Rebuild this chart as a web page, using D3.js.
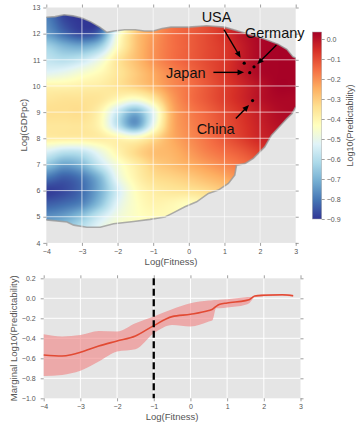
<!DOCTYPE html>
<html><head><meta charset="utf-8">
<script src="https://cdn.jsdelivr.net/npm/d3@7"></script>
<style>
body{margin:0;background:#fff}
svg{display:block}
text{font-family:"Liberation Sans",Arial,sans-serif}
</style>
</head><body>
<svg id="chart" width="363" height="430"></svg>
<script>
// ---------- DATA ----------
const gridX = [-4,-3.5,-3,-2.5,-2,-1.5,-1,-0.5,0,0.5,1,1.5,2,2.5,3];
const gridY = [13,12.5,12,11.5,11,10.5,10,9.5,9,8.5,8,7.5,7,6.5,6,5.5,5,4.5,4];
const predictability = [
 [-0.80,-0.89,-0.90,-0.90,-0.70,-0.40,-0.25,-0.18,-0.15,-0.12,-0.08,-0.04,-0.01, 0.00, 0.00],
 [-0.78,-0.87,-0.90,-0.89,-0.64,-0.36,-0.24,-0.17,-0.14,-0.11,-0.07,-0.03, 0.00, 0.01, 0.01],
 [-0.74,-0.82,-0.87,-0.81,-0.48,-0.30,-0.22,-0.16,-0.13,-0.10,-0.06,-0.01, 0.02, 0.03, 0.03],
 [-0.63,-0.69,-0.71,-0.64,-0.43,-0.29,-0.21,-0.16,-0.13,-0.10,-0.07,-0.02, 0.02, 0.03, 0.03],
 [-0.58,-0.60,-0.57,-0.49,-0.36,-0.28,-0.21,-0.16,-0.13,-0.10,-0.07,-0.02, 0.02, 0.03, 0.03],
 [-0.52,-0.50,-0.46,-0.42,-0.36,-0.30,-0.24,-0.19,-0.15,-0.11,-0.07,-0.02, 0.02, 0.03, 0.03],
 [-0.40,-0.40,-0.39,-0.38,-0.35,-0.31,-0.26,-0.20,-0.16,-0.12,-0.08,-0.04, 0.00, 0.03, 0.03],
 [-0.36,-0.35,-0.35,-0.36,-0.41,-0.45,-0.37,-0.23,-0.16,-0.12,-0.08,-0.04, 0.00, 0.02, 0.02],
 [-0.34,-0.34,-0.34,-0.40,-0.57,-0.70,-0.52,-0.26,-0.18,-0.14,-0.10,-0.06,-0.02, 0.01, 0.02],
 [-0.36,-0.36,-0.36,-0.41,-0.59,-0.74,-0.50,-0.26,-0.19,-0.15,-0.11,-0.07,-0.03, 0.00, 0.01],
 [-0.38,-0.38,-0.38,-0.38,-0.40,-0.42,-0.34,-0.25,-0.20,-0.16,-0.12,-0.08,-0.04,-0.02,-0.01],
 [-0.53,-0.58,-0.57,-0.49,-0.40,-0.33,-0.28,-0.26,-0.22,-0.18,-0.15,-0.12,-0.08,-0.05,-0.04],
 [-0.66,-0.73,-0.69,-0.57,-0.46,-0.38,-0.31,-0.28,-0.25,-0.22,-0.19,-0.16,-0.13,-0.10,-0.08],
 [-0.80,-0.84,-0.80,-0.69,-0.50,-0.40,-0.34,-0.32,-0.30,-0.27,-0.24,-0.20,-0.17,-0.14,-0.12],
 [-0.89,-0.87,-0.82,-0.71,-0.55,-0.43,-0.38,-0.36,-0.35,-0.33,-0.30,-0.27,-0.24,-0.21,-0.18],
 [-0.84,-0.82,-0.78,-0.67,-0.52,-0.44,-0.40,-0.41,-0.43,-0.40,-0.36,-0.32,-0.28,-0.25,-0.22],
 [-0.76,-0.73,-0.66,-0.56,-0.48,-0.44,-0.42,-0.42,-0.43,-0.42,-0.40,-0.37,-0.34,-0.30,-0.28],
 [-0.68,-0.65,-0.58,-0.50,-0.45,-0.44,-0.43,-0.43,-0.43,-0.42,-0.40,-0.38,-0.35,-0.32,-0.30],
 [-0.62,-0.60,-0.54,-0.48,-0.44,-0.44,-0.43,-0.43,-0.43,-0.42,-0.40,-0.38,-0.35,-0.32,-0.30]
];
// boundary of the region where the estimate exists
const maskX = [-4.3,-4,-3.75,-3.5,-3.25,-3,-2.75,-2.5,-2.3,-2.1,-1.8,-1.5,-1.25,-1,-0.75,-0.5,0,0.5,1,1.5,2,2.5,2.75,2.92,3.3,
               3.3,3,2.9,2.75,2.65,2.32,2.13,1.81,1.57,1.34,1.29,1.11,0.83,0.55,0.22,-0.11,-0.48,-0.67,-1.09,-1.55,-2.11,-2.49,-2.86,-3.23,-3.42,-4,-4.3];
const maskY = [12.63,12.63,12.65,12.72,12.68,12.6,12.45,12.25,12.05,12.1,12.15,12.15,12.1,12.1,12.2,12.25,12.25,12.3,12.25,12.05,11.85,11.6,11.4,11.12,10.9,
               9.3,9.2,8.95,8.75,8.6,8.12,7.67,7.23,7.03,6.97,6.59,6.27,6.02,5.89,5.57,5.38,5.12,4.99,4.9,4.82,4.73,4.6,4.6,4.68,4.8,4.88,4.88];

const countries = ["USA","Germany","Japan","China"];
const countryFitness = [1.555,1.83,1.71,1.79];
const countryGDP = [10.87,10.73,10.51,9.44];
const labelFitness = [0.36,1.574,-0.64,0.22];
const labelGDP = [12.46,11.85,10.29,8.18];
const arrowFromX = [0.986,2.46,0.69,1.32];
const arrowFromY = [12.15,11.57,10.52,8.76];
const arrowToX = [1.454,1.92,1.55,1.69];
const arrowToY = [11.08,10.83,10.52,9.27];

const xTicks = [-4,-3,-2,-1,0,1,2,3];
const yTicks = [4,5,6,7,8,9,10,11,12,13];
const cbTicks = [0,-0.1,-0.2,-0.3,-0.4,-0.5,-0.6,-0.7,-0.8,-0.9];
const colorMin = -0.9, colorMax = 0.035;

const margX     = [-4,-3.5,-3.25,-3,-2.5,-2,-1.5,-1,-0.5,0,0.5,0.6,0.7,0.8,1,1.5,1.6,1.75,2,2.5,2.8];
const margMean  = [-0.567,-0.577,-0.565,-0.54,-0.477,-0.427,-0.377,-0.273,-0.183,-0.16,-0.123,-0.11,-0.08,-0.06,-0.047,-0.023,-0.015,0.023,0.03,0.035,0.025];
const margUpper = [-0.36,-0.383,-0.378,-0.367,-0.327,-0.333,-0.25,-0.183,-0.11,-0.05,-0.023,-0.02,-0.018,-0.015,-0.01,0.01,0.012,0.02,0.04,0.043,0.035];
const margLower = [-0.777,-0.767,-0.75,-0.724,-0.633,-0.533,-0.51,-0.35,-0.267,-0.283,-0.233,-0.22,-0.1,-0.1,-0.093,-0.065,-0.05,0.01,0.02,0.025,0.015];
const margYTicks = [0.2,0,-0.2,-0.4,-0.6,-0.8,-1.0];
const threshold = -1;

// ---------- DRAW ----------
const svg = d3.select("#chart");
const fmtInt = d => (d < 0 ? "\u2212" : "") + Math.abs(d);
const fmt1 = d => (d < -1e-9 ? "\u2212" : "") + Math.abs(d).toFixed(1);
const bg = "#e5e5e5", tickCol = "#888", labCol = "#555";

function styleAxis(g, size) {
  g.select(".domain").remove();
  g.attr("font-family", "Liberation Sans, Arial, sans-serif").attr("font-size", size);
  g.selectAll(".tick line").attr("stroke", tickCol).attr("stroke-width", 0.8);
  g.selectAll(".tick text").attr("fill", labCol);
}

// ===== Top heatmap =====
const xT = d3.scaleLinear().domain([-4,3]).range([46.3,295.7]);
const yT = d3.scaleLinear().domain([4,13]).range([242.9,7.5]);
// linear-segment RdYlBu (as matplotlib builds it), red = high
const rdylbu = d3.piecewise(d3.interpolateRgb, d3.schemeRdYlBu[11]);
const color = d3.scaleSequential(rdylbu).domain([colorMax, colorMin]);

const px0 = xT(-4), px1 = xT(3), py0 = yT(13), py1 = yT(4);
svg.append("rect").attr("x",px0).attr("y",py0).attr("width",px1-px0).attr("height",py1-py0).attr("fill",bg);

const defs = svg.append("defs");
defs.append("clipPath").attr("id","plotTop").append("rect")
  .attr("x",px0).attr("y",py0).attr("width",px1-px0).attr("height",py1-py0);
const maskPts = maskX.map((x,i)=>[xT(x), yT(maskY[i])]);
defs.append("clipPath").attr("id","maskClip").append("path")
  .attr("d", d3.line()(maskPts) + "Z");

// bicubic sample of the grid (display smoothing)
const nx = gridX.length, ny = gridY.length;
const dxg = gridX[1]-gridX[0], dyg = gridY[0]-gridY[1];
function cub(p0,p1,p2,p3,t){
  return 0.5*((2*p1)+(-p0+p2)*t+(2*p0-5*p1+4*p2-p3)*t*t+(-p0+3*p1-3*p2+p3)*t*t*t);
}
function val(r,c){ r=Math.max(0,Math.min(ny-1,r)); c=Math.max(0,Math.min(nx-1,c)); return predictability[r][c]; }
function sample(xv,yv){
  const fc=(xv-gridX[0])/dxg, fr=(gridY[0]-yv)/dyg;
  const c=Math.floor(fc), r=Math.floor(fr), tc=fc-c, tr=fr-r;
  const rows=[];
  for(let k=-1;k<=2;k++) rows.push(cub(val(r+k,c-1),val(r+k,c),val(r+k,c+1),val(r+k,c+2),tc));
  return cub(rows[0],rows[1],rows[2],rows[3],tr);
}
const W = Math.round(px1-px0), H = Math.round(py1-py0);
const cv = document.createElement("canvas"); cv.width=W; cv.height=H;
const ctx = cv.getContext("2d"); const img = ctx.createImageData(W,H);
for(let j=0;j<H;j++){
  const yv = yT.invert(py0 + (j+0.5)*(py1-py0)/H);
  for(let i=0;i<W;i++){
    const xv = xT.invert(px0 + (i+0.5)*(px1-px0)/W);
    let v = sample(xv,yv); v=Math.max(colorMin,Math.min(colorMax,v));
    const c = d3.rgb(color(v)); const k=(j*W+i)*4;
    img.data[k]=c.r; img.data[k+1]=c.g; img.data[k+2]=c.b; img.data[k+3]=255;
  }
}
ctx.putImageData(img,0,0);
const gTop = svg.append("g").attr("clip-path","url(#plotTop)");
gTop.append("image").attr("href",cv.toDataURL()).attr("x",px0).attr("y",py0)
  .attr("width",px1-px0).attr("height",py1-py0).attr("preserveAspectRatio","none")
  .attr("clip-path","url(#maskClip)");
gTop.append("path").attr("d", d3.line()(maskPts)+"Z").attr("fill","none")
  .attr("stroke","#9a9a9a").attr("stroke-width",1.6).attr("stroke-opacity",0.8);

// grid
const gGrid = svg.append("g").attr("stroke","#fff").attr("stroke-opacity",0.65).attr("stroke-width",1);
xTicks.slice(1,-1).forEach(t=>gGrid.append("line").attr("x1",xT(t)).attr("x2",xT(t)).attr("y1",py0).attr("y2",py1));
yTicks.slice(1,-1).forEach(t=>gGrid.append("line").attr("y1",yT(t)).attr("y2",yT(t)).attr("x1",px0).attr("x2",px1));

// axes
svg.append("g").attr("transform",`translate(0,${py1})`)
  .call(d3.axisBottom(xT).tickValues(xTicks).tickSize(3).tickPadding(3).tickFormat(fmtInt)).call(g=>styleAxis(g,7));
svg.append("g").attr("transform",`translate(0,${py0})`)
  .call(d3.axisTop(xT).tickValues(xTicks).tickSize(3).tickFormat("")).call(g=>styleAxis(g,7));
svg.append("g").attr("transform",`translate(${px0},0)`)
  .call(d3.axisLeft(yT).tickValues(yTicks).tickSize(3).tickPadding(3).tickFormat(fmtInt)).call(g=>styleAxis(g,7));
svg.append("g").attr("transform",`translate(${px1},0)`)
  .call(d3.axisRight(yT).tickValues(yTicks).tickSize(3).tickFormat("")).call(g=>styleAxis(g,7));

svg.append("text").attr("x",(px0+px1)/2).attr("y",264.5).attr("text-anchor","middle")
  .attr("font-size",9.5).attr("fill",labCol).text("Log(Fitness)");
svg.append("text").attr("transform",`translate(27.3,${(py0+py1)/2}) rotate(-90)`).attr("text-anchor","middle")
  .attr("font-size",9.5).attr("fill",labCol).text("Log(GDPpc)");

// country points & annotations
const gAnn = svg.append("g");
countries.forEach((name,i)=>{
  gAnn.append("circle").attr("cx",xT(countryFitness[i])).attr("cy",yT(countryGDP[i])).attr("r",1.6).attr("fill","#000");
  const ax0=xT(arrowFromX[i]), ay0=yT(arrowFromY[i]), ax1=xT(arrowToX[i]), ay1=yT(arrowToY[i]);
  const dx=ax1-ax0, dy=ay1-ay0, len=Math.hypot(dx,dy), ux=dx/len, uy=dy/len;
  const hl=6.5, hw=2.8;
  gAnn.append("line").attr("x1",ax0).attr("y1",ay0).attr("x2",ax1-ux*hl*0.8).attr("y2",ay1-uy*hl*0.8)
    .attr("stroke","#000").attr("stroke-width",1.4);
  const bx=ax1-ux*hl, by=ay1-uy*hl;
  gAnn.append("path").attr("d",`M${ax1},${ay1}L${bx-uy*hw},${by+ux*hw}L${bx+uy*hw},${by-ux*hw}Z`).attr("fill","#000");
  gAnn.append("text").attr("x",xT(labelFitness[i])).attr("y",yT(labelGDP[i]))
    .attr("font-size",14.5).attr("fill","#111").text(name);
});

// colorbar
const cbX0 = 312.3, cbX1 = 321.7;
const cbY = d3.scaleLinear().domain([colorMin,colorMax]).range([219,32]);
const grad = defs.append("linearGradient").attr("id","cbGrad").attr("x1",0).attr("y1",1).attr("x2",0).attr("y2",0);
d3.range(0,1.0001,0.02).forEach(t=>{
  grad.append("stop").attr("offset",t).attr("stop-color",color(colorMin + t*(colorMax-colorMin)));
});
svg.append("rect").attr("x",cbX0).attr("y",cbY(colorMax)).attr("width",cbX1-cbX0)
  .attr("height",cbY(colorMin)-cbY(colorMax)).attr("fill","url(#cbGrad)")
  .attr("stroke","#aaa").attr("stroke-width",0.5);
svg.append("g").attr("transform",`translate(${cbX1},0)`)
  .call(d3.axisRight(cbY).tickValues(cbTicks).tickSize(3).tickPadding(2).tickFormat(fmt1)).call(g=>styleAxis(g,7));
svg.append("text").attr("transform",`translate(353.3,${(cbY(colorMin)+cbY(colorMax))/2}) rotate(-90)`)
  .attr("text-anchor","middle").attr("font-size",9).attr("fill",labCol).text("Log10(Predictability)");

// ===== Bottom marginal =====
const xB = d3.scaleLinear().domain([-4,3]).range([43.7,300.5]);
const yB = d3.scaleLinear().domain([-1.0,0.2]).range([398.3,278.3]);
const bx0=xB(-4), bx1=xB(3), by0=yB(0.2), by1=yB(-1.0);
svg.append("rect").attr("x",bx0).attr("y",by0).attr("width",bx1-bx0).attr("height",by1-by0).attr("fill",bg);
const gGridB = svg.append("g").attr("stroke","#fff").attr("stroke-width",1);
xTicks.slice(1,-1).forEach(t=>gGridB.append("line").attr("x1",xB(t)).attr("x2",xB(t)).attr("y1",by0).attr("y2",by1));
margYTicks.slice(1,-1).forEach(t=>gGridB.append("line").attr("y1",yB(t)).attr("y2",yB(t)).attr("x1",bx0).attr("x2",bx1));

const margData = margX.map((x,i)=>({x, m:margMean[i], lo:margLower[i], hi:margUpper[i]}));
svg.append("path").datum(margData)
  .attr("d", d3.area().x(d=>xB(d.x)).y0(d=>yB(d.lo)).y1(d=>yB(d.hi)).curve(d3.curveMonotoneX))
  .attr("fill","#f08080").attr("fill-opacity",0.6);
svg.append("path").datum(margData)
  .attr("d", d3.line().x(d=>xB(d.x)).y(d=>yB(d.m)).curve(d3.curveMonotoneX))
  .attr("fill","none").attr("stroke","#e24a33").attr("stroke-width",1.6);
svg.append("line").attr("x1",xB(threshold)).attr("x2",xB(threshold)).attr("y1",by0).attr("y2",by1)
  .attr("stroke","#000").attr("stroke-width",2.3).attr("stroke-dasharray","7,3.5");

svg.append("g").attr("transform",`translate(0,${by1})`)
  .call(d3.axisBottom(xB).tickValues(xTicks).tickSize(3).tickPadding(3).tickFormat(fmtInt)).call(g=>styleAxis(g,7));
svg.append("g").attr("transform",`translate(0,${by0})`)
  .call(d3.axisTop(xB).tickValues(xTicks).tickSize(3).tickFormat("")).call(g=>styleAxis(g,7));
svg.append("g").attr("transform",`translate(${bx0},0)`)
  .call(d3.axisLeft(yB).tickValues(margYTicks).tickSize(3).tickPadding(5).tickFormat(fmt1)).call(g=>styleAxis(g,7));
svg.append("g").attr("transform",`translate(${bx1},0)`)
  .call(d3.axisRight(yB).tickValues(margYTicks).tickSize(3).tickFormat("")).call(g=>styleAxis(g,7));

svg.append("text").attr("x",(bx0+bx1)/2).attr("y",420).attr("text-anchor","middle")
  .attr("font-size",9.5).attr("fill",labCol).text("Log(Fitness)");
svg.append("text").attr("transform",`translate(16.7,${(by0+by1)/2}) rotate(-90)`).attr("text-anchor","middle")
  .attr("font-size",9.5).attr("fill",labCol).text("Marginal Log10(Predictability)");
</script>
</body></html>
